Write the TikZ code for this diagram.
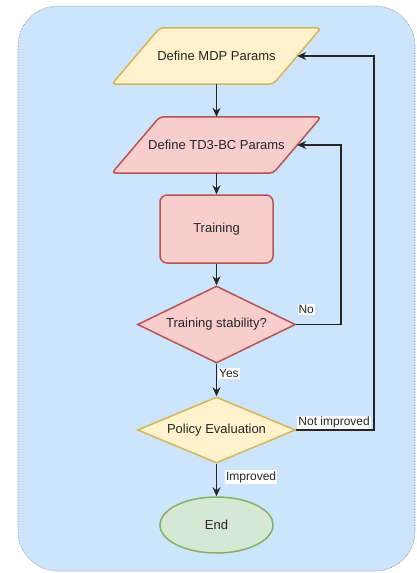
\documentclass[tikz,border=0pt]{standalone}
\usepackage{fontspec}
\setmainfont{Liberation Sans}
\usetikzlibrary{shapes.geometric,arrows.meta,calc}
\pgfdeclarelayer{bgl}
\pgfdeclarelayer{shl}
\pgfsetlayers{bgl,shl,main}
\definecolor{bgblue}{RGB}{204,228,252}
\definecolor{yfill}{HTML}{FFF2CC}
\definecolor{ydraw}{HTML}{D6B656}
\definecolor{rfill}{HTML}{F8CECC}
\definecolor{rdraw}{HTML}{B85450}
\definecolor{gfill}{HTML}{D5E8D4}
\definecolor{gdraw}{HTML}{82B366}
\begin{document}
\begin{tikzpicture}[x=1pt,y=-1pt,
  txt/.style={font=\fontsize{13}{15}\selectfont, text=black!85},
  lbl/.style={font=\fontsize{12}{14}\selectfont, text=black!85, fill=white, inner sep=1pt},
  conn/.style={draw=black!85, line width=1.2pt, -{Stealth[length=9pt,width=8pt]}},
  shapeline/.style={line width=1.5pt},
  paraframe/.style={txt, minimum width=161pt, minimum height=56pt, inner sep=0pt},
  dia/.style={txt, diamond, shapeline, inner sep=0pt, minimum width=158pt}
]
\useasboundingbox (0,0) rectangle (417,573);
\begin{pgfonlayer}{bgl}
  \draw[gray, densely dotted, line width=0.6pt, fill=bgblue, rounded corners=40pt] (18,6) rectangle (415,571);
\end{pgfonlayer}

\node[paraframe] (mdp) at (216.5,56) {Define MDP Params};
\node[paraframe] (td3) at (216.5,145) {Define TD3-BC Params};
\begin{pgfonlayer}{shl}
  \draw[shapeline, draw=ydraw, fill=yfill, rounded corners=4pt]
    ($(mdp.north west)+(24,0)$) -- ($(mdp.north east)+(24,0)$) --
    ($(mdp.south east)+(-24,0)$) -- ($(mdp.south west)+(-24,0)$) -- cycle;
  \draw[shapeline, draw=rdraw, fill=rfill, rounded corners=4pt]
    ($(td3.north west)+(24,0)$) -- ($(td3.north east)+(24,0)$) --
    ($(td3.south east)+(-24,0)$) -- ($(td3.south west)+(-24,0)$) -- cycle;
\end{pgfonlayer}

\node[txt, shapeline, draw=rdraw, fill=rfill, rounded corners=7pt, minimum width=113pt, minimum height=68pt] (train) at (216.5,229) {Training};
\node[dia, aspect=2.05, draw=rdraw, fill=rfill, minimum height=77pt] (stab) at (216.5,324.5) {Training stability?};
\node[dia, aspect=2.4, draw=ydraw, fill=yfill, minimum height=66pt] (pol) at (216.5,430) {Policy Evaluation};
\node[txt, ellipse, shapeline, draw=gdraw, fill=gfill, inner sep=0pt, minimum width=113pt, minimum height=56pt] (end) at (216.5,525) {End};

\coordinate (nox) at (341,0);
\coordinate (nix) at (374,0);

\draw[conn] (mdp) -- (td3);
\draw[conn] (td3) -- (train);
\draw[conn] (train) -- (stab);
\draw[conn] (stab) -- node[lbl, pos=0.3, anchor=west, xshift=1pt] {Yes} (pol);
\draw[conn] (pol) -- node[lbl, pos=0.41, anchor=west, xshift=8pt] {Improved} (end);
\draw[conn] (stab.east) -- (stab.east -| nox) |- (td3.east);
\draw[conn] (pol.east) -- (pol.east -| nix) |- (mdp.east);
\node[lbl] (nolbl) at ($(stab.east)+(10,-15)$) {No};
\node[lbl, anchor=south west] (nilbl) at ($(pol.east)+(1,-1)$) {Not improved};
\end{tikzpicture}
\end{document}
